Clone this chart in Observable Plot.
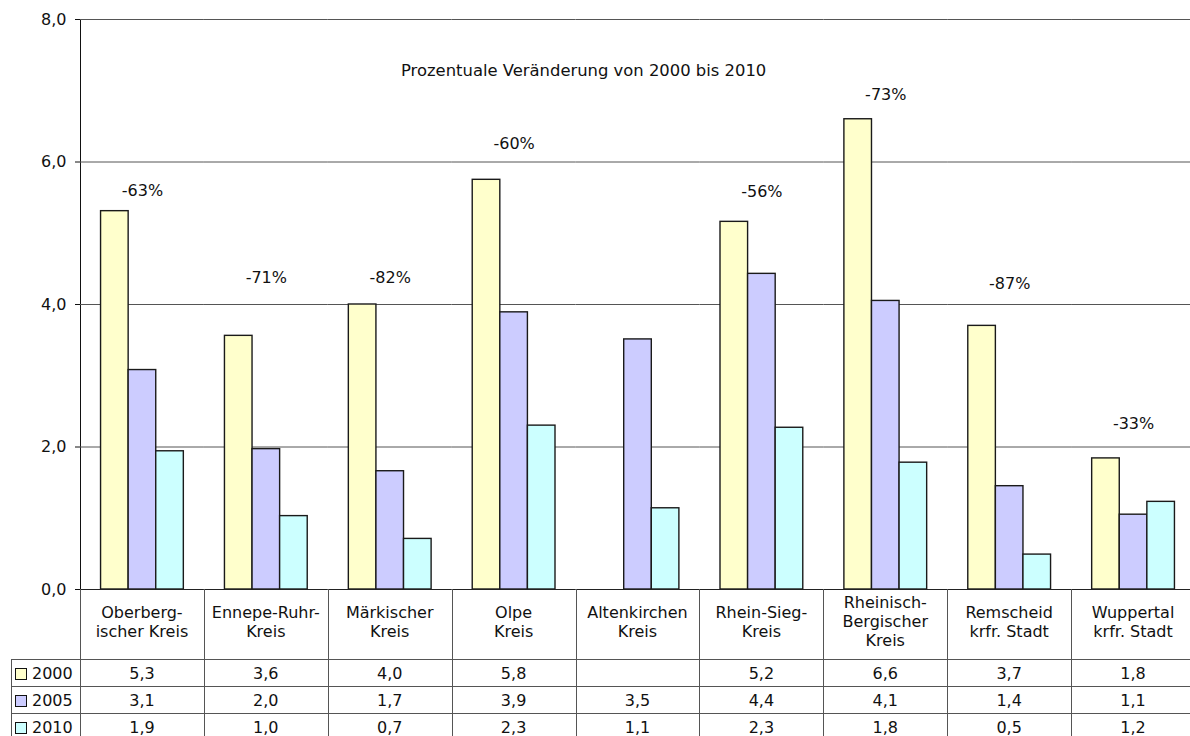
<!DOCTYPE html>
<html><head><meta charset="utf-8">
<script src="https://cdn.jsdelivr.net/npm/d3@7"></script>
<script src="https://cdn.jsdelivr.net/npm/@observablehq/plot@0.6"></script>
<style>
html,body{margin:0;padding:0;overflow:hidden;background:#fff;}
#wrap{position:relative;width:1190px;height:736px;overflow:hidden;font-family:"DejaVu Sans",Verdana,sans-serif;color:#111;}
#wrap svg{position:absolute;left:0;top:0;max-width:none !important;}
.cell{position:absolute;box-sizing:border-box;font-size:16px;display:flex;align-items:center;justify-content:center;text-align:center;line-height:19px;white-space:pre;}
.line{position:absolute;background:#555;}
.title{position:absolute;font-size:16.4px;line-height:18px;white-space:nowrap;}
</style></head><body><div id="wrap"></div>
<script>
// ---- data ----
const categories = ["Oberberg-\nischer Kreis", "Ennepe-Ruhr-\nKreis", "Märkischer\nKreis", "Olpe\nKreis", "Altenkirchen\nKreis", "Rhein-Sieg-\nKreis", "Rheinisch-\nBergischer\nKreis", "Remscheid\nkrfr. Stadt", "Wuppertal\nkrfr. Stadt"];
const years = ["2000", "2005", "2010"];
const values2000 = [5.31, 3.56, 4.00, 5.75, null, 5.16, 6.60, 3.70, 1.84];
const values2005 = [3.08, 1.97, 1.66, 3.89, 3.51, 4.43, 4.05, 1.45, 1.05];
const values2010 = [1.94, 1.03, 0.71, 2.30, 1.14, 2.27, 1.78, 0.49, 1.23];
const table2000 = ["5,3", "3,6", "4,0", "5,8", "", "5,2", "6,6", "3,7", "1,8"];
const table2005 = ["3,1", "2,0", "1,7", "3,9", "3,5", "4,4", "4,1", "1,4", "1,1"];
const table2010 = ["1,9", "1,0", "0,7", "2,3", "1,1", "2,3", "1,8", "0,5", "1,2"];
const changeLabels = ["-63%", "-71%", "-82%", "-60%", "", "-56%", "-73%", "-87%", "-33%"];
const changeLabelY = [5.59, 4.37, 4.37, 6.26, null, 5.58, 6.94, 4.29, 2.33];
const yTicks = [0, 2, 4, 6, 8];
const titleText = "Prozentuale Veränderung von 2000 bis 2010";

// ---- build rows ----
const seriesValues = [values2000, values2005, values2010];
const tableTexts = [table2000, table2005, table2010];
const rows = [];
categories.forEach((cat, i) => years.forEach((yr, j) => {
  const v = seriesValues[j][i];
  if (v != null) rows.push({cat, year: yr, value: v});
}));
const labelRows = categories.map((cat, i) => ({cat, label: changeLabels[i], y: changeLabelY[i]})).filter(d => d.y != null);

const colors = ["#FFFFCC", "#CCCCFF", "#CCFFFF"];
const fmt = d => d.toFixed(1).replace(".", ",");

const chart = Plot.plot({
  width: 1195, height: 592,
  marginLeft: 80, marginRight: 0, marginTop: 19, marginBottom: 3,
  style: {fontFamily: "DejaVu Sans, Verdana, sans-serif", fontSize: "16px", color: "#111", background: "transparent", overflow: "visible"},
  fx: {domain: categories, padding: 0, round: false, axis: null, label: null},
  x: {domain: years, paddingInner: 0, paddingOuter: 0.745, round: false, axis: null},
  y: {domain: [0, 8], ticks: yTicks, tickFormat: fmt, tickSize: 5, tickPadding: 9, label: null, line: true},
  color: {domain: years, range: colors},
  marks: [
    Plot.ruleY(yTicks.filter(d => d > 0), {stroke: "#555", strokeWidth: 1}),
    Plot.barY(rows, {fx: "cat", x: "year", y: "value", fill: "year", stroke: "#1a1a1a", strokeWidth: 1.4}),
    Plot.ruleY([0], {stroke: "#222", strokeWidth: 1.2}),
    Plot.text(labelRows, {fx: "cat", y: "y", text: "label", fontSize: 16, fill: "#111"})
  ]
});
const wrap = document.getElementById("wrap");
wrap.appendChild(chart);

// ---- title and data table (below the plot) ----
const t = document.createElement("div");
t.className = "title"; t.textContent = titleText;
t.style.left = "401px"; t.style.top = "62px";
wrap.appendChild(t);

const fx = chart.scale("fx");
const bw = fx.bandwidth;
const left0 = fx.apply(categories[0]);
const yScale = chart.scale("y");
const tableTop = yScale.apply(0);
const headerH = 70, rowH = 27;
function div(cls, styles, text) {
  const d = document.createElement("div");
  d.className = cls;
  Object.assign(d.style, styles);
  if (text != null) d.textContent = text;
  wrap.appendChild(d);
  return d;
}
// header cells (category labels)
categories.forEach(cat => {
  const x = fx.apply(cat);
  div("cell", {left: x + "px", top: tableTop + "px", width: bw + "px", height: (headerH - 5) + "px"}, cat);
  div("line", {left: (x + bw) + "px", top: tableTop + "px", width: "1px", height: (736 - tableTop) + "px"});
});
// left border lines
div("line", {left: left0 + "px", top: tableTop + "px", width: "1px", height: (736 - tableTop) + "px"});
const legendLeft = 11;
div("line", {left: legendLeft + "px", top: (tableTop + headerH) + "px", width: "1px", height: (736 - tableTop - headerH) + "px"});
years.forEach((yr, j) => {
  const top = tableTop + headerH + j * rowH;
  div("line", {left: legendLeft + "px", top: top + "px", width: (1190 - legendLeft) + "px", height: "1px"});
  // legend cell
  const lc = div("cell", {left: (legendLeft + 4) + "px", top: (top + 1) + "px", width: (left0 - legendLeft - 4) + "px", height: rowH + "px", justifyContent: "flex-start"});
  const sw = document.createElement("span");
  Object.assign(sw.style, {display: "inline-block", width: "10px", height: "10px", border: "1px solid #111", background: colors[j], marginRight: "5px"});
  lc.appendChild(sw);
  lc.appendChild(document.createTextNode(yr));
  categories.forEach((cat, i) => {
    const x = fx.apply(cat);
    div("cell", {left: x + "px", top: (top + 1) + "px", width: bw + "px", height: rowH + "px"}, tableTexts[j][i]);
  });
});
</script></body></html>
